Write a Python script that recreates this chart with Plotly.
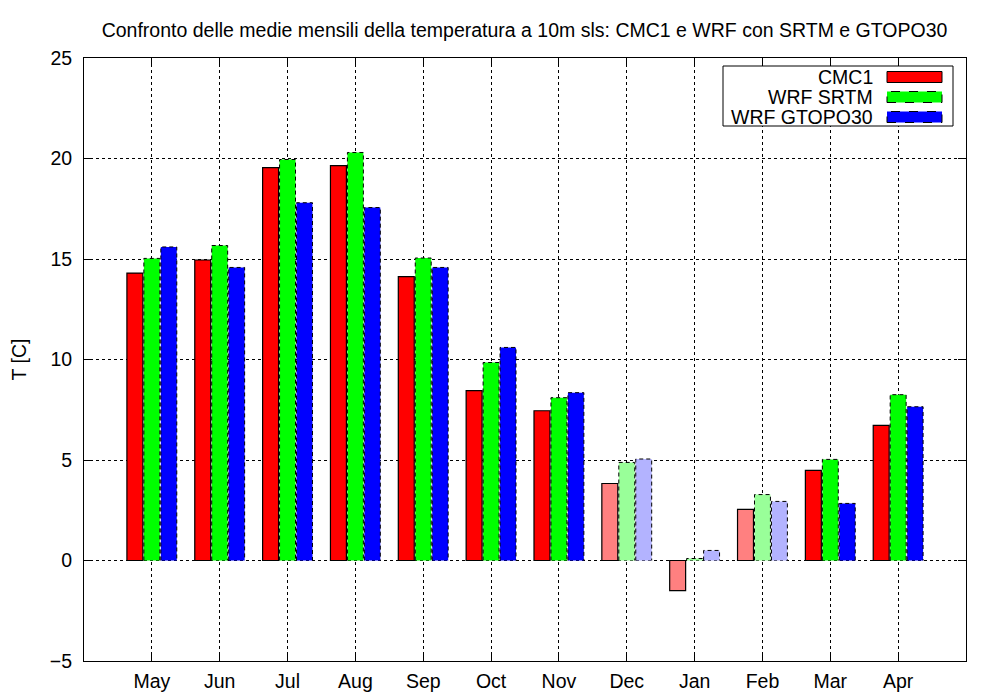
import plotly.graph_objects as go

months = ["May", "Jun", "Jul", "Aug", "Sep", "Oct", "Nov", "Dec", "Jan", "Feb", "Mar", "Apr"]
cmc1 = [14.3, 14.95, 19.55, 19.65, 14.12, 8.45, 7.45, 3.83, -1.5, 2.54, 4.48, 6.72]
wrf_srtm = [15.03, 15.67, 19.95, 20.3, 15.05, 9.85, 8.1, 4.88, 0.1, 3.28, 5.03, 8.25]
wrf_gtopo = [15.6, 14.58, 17.8, 17.56, 14.58, 10.6, 8.35, 5.05, 0.5, 2.94, 2.84, 7.65]
light_months = ["Dec", "Jan", "Feb"]

series = [
    ("CMC1", cmc1, "#ff0000", "#ff8080", "solid"),
    ("WRF SRTM", wrf_srtm, "#00ff00", "#99ff99", "dash"),
    ("WRF GTOPO30", wrf_gtopo, "#0000ff", "#b3b3ff", "dash"),
]

offsets = [-0.25, 0.0, 0.25]
bw = 0.235
FONT = "Liberation Sans, Arial, Helvetica, sans-serif"
FS = 19.5

fig = go.Figure()
for (name, vals, col, light, dash), off in zip(series, offsets):
    xs = [i + off for i in range(len(months))]
    cols = [light if m in light_months else col for m in months]
    fig.add_trace(go.Bar(
        x=xs, y=vals, width=bw, name=name,
        marker=dict(color=cols, line=dict(color="black", width=1.2 if dash == "solid" else 0)),
        showlegend=False,
    ))
    if dash != "solid":
        ox, oy = [], []
        for x, v in zip(xs, vals):
            x0, x1 = x - bw / 2, x + bw / 2
            ox += [x0, x0, x1, x1, None]
            oy += [0, v, v, 0, None]
        fig.add_trace(go.Scatter(x=ox, y=oy, mode="lines",
                                 line=dict(color="black", width=1.0, dash="4px,3px"),
                                 showlegend=False, hoverinfo="skip"))

# page offset (body margin) = 8px; reference pixel coords below
OFF = 8
W, H = 1000, 700
L, R, T, B = 84 - OFF, 966 - OFF, 58 - OFF, 661 - OFF

def px(x):
    return (x - OFF - L) / (R - L)

def py(y):
    return (B - (y - OFF)) / (B - T)

shapes = [dict(type="rect", xref="paper", yref="paper",
               x0=px(723), x1=px(953), y0=py(126), y1=py(66),
               line=dict(color="black", width=1), fillcolor="white", layer="above")]
annotations = []
rows = [77, 97, 117]
for (name, vals, col, light, dash), yc in zip(series, rows):
    shapes.append(dict(type="rect", xref="paper", yref="paper",
                       x0=px(887), x1=px(942), y0=py(yc + 5.5), y1=py(yc - 5.5),
                       fillcolor=col, layer="above",
                       line=dict(color="black", width=1.0, dash="solid" if dash == "solid" else "dash")))
    annotations.append(dict(xref="paper", yref="paper", x=px(875), y=py(yc),
                            text=name, showarrow=False, xanchor="right", yanchor="middle",
                            font=dict(family=FONT, size=FS, color="black")))

fig.update_layout(
    width=W, height=H,
    margin=dict(l=L, r=W - R, t=T, b=H - B, autoexpand=False),
    paper_bgcolor="white", plot_bgcolor="white",
    barmode="overlay",
    title=dict(text="Confronto delle medie mensili della temperatura a 10m sls: CMC1 e WRF con SRTM e GTOPO30",
               x=(524.5 - OFF) / W, xanchor="center", y=1 - (30 - OFF) / H, yanchor="middle",
               font=dict(family=FONT, size=FS, color="black")),
    font=dict(family=FONT, size=FS, color="black"),
    shapes=shapes, annotations=annotations,
    xaxis=dict(range=[-1, 12], tickmode="array", tickvals=list(range(len(months))), ticktext=months,
               showgrid=True, gridcolor="black", griddash="dot", gridwidth=1,
               showline=True, linecolor="black", linewidth=1, mirror="ticks",
               ticks="inside", ticklen=8, tickcolor="black", zeroline=False,
               ticklabelstandoff=3,
               tickfont=dict(family=FONT, size=FS)),
    yaxis=dict(range=[-5, 25], tickmode="array", tickvals=[-5, 0, 5, 10, 15, 20, 25],
               showgrid=True, gridcolor="black", griddash="dot", gridwidth=1,
               showline=True, linecolor="black", linewidth=1, mirror="ticks",
               ticks="inside", ticklen=8, tickcolor="black", zeroline=False,
               ticklabelstandoff=7,
               title=dict(text="T [C]", font=dict(family=FONT, size=FS), standoff=26),
               tickfont=dict(family=FONT, size=FS)),
)

fig.write_html("out.html")
